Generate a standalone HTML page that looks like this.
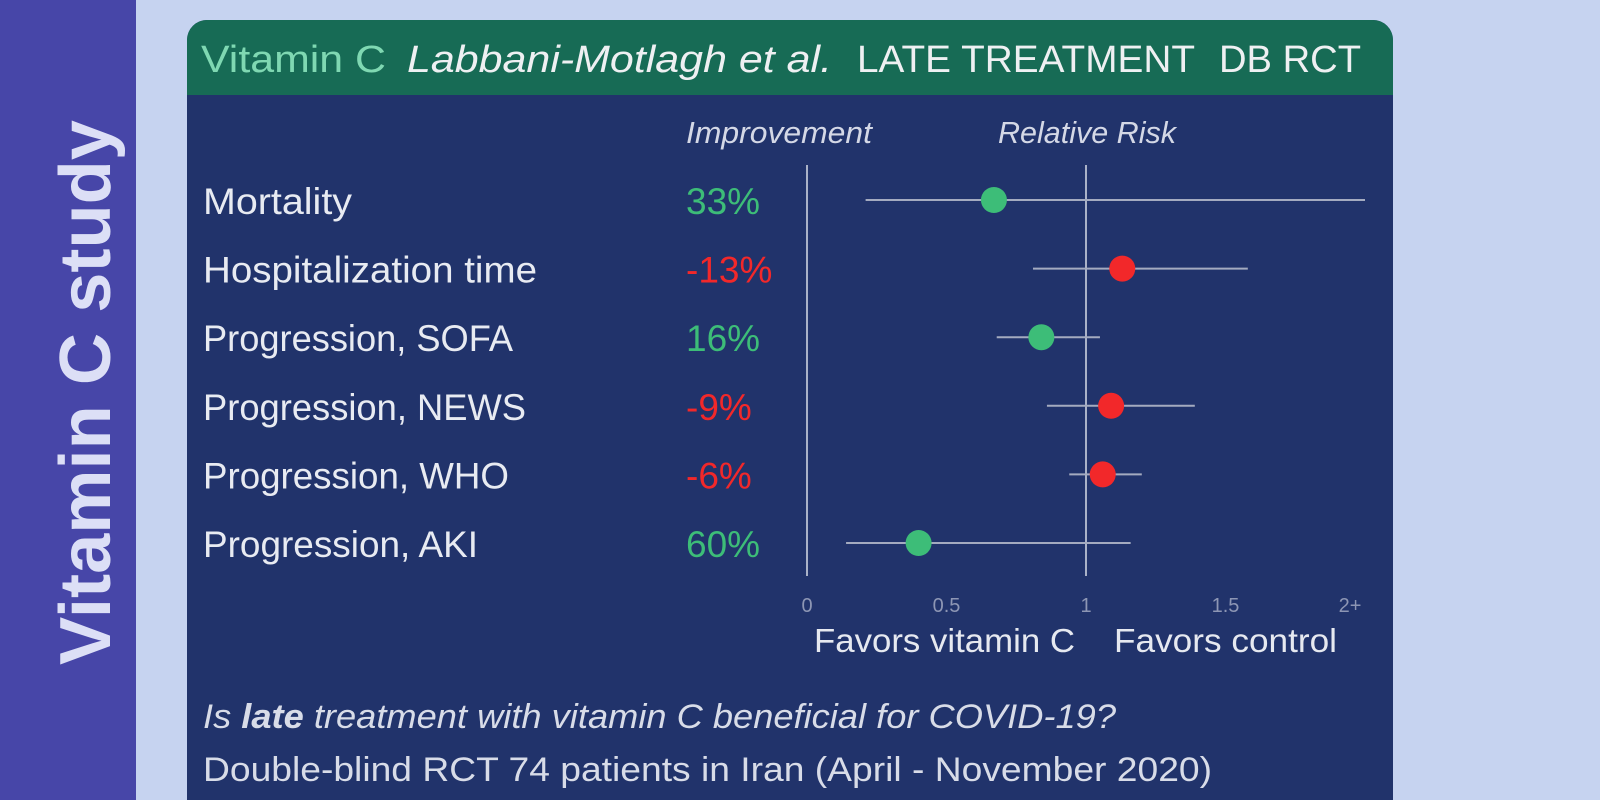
<!DOCTYPE html>
<html><head><meta charset="utf-8"><style>
html,body{margin:0;padding:0;width:1600px;height:800px;overflow:hidden;background:#c6d3f0;}
svg{display:block;font-family:"Liberation Sans Narrow","Liberation Sans",sans-serif;}
</style></head><body>
<svg width="1600" height="800" viewBox="0 0 1600 800">
<rect x="0" y="0" width="1600" height="800" fill="#c6d3f0"/>
<rect x="0" y="0" width="136" height="800" fill="#4746a8"/>
<text transform="translate(110,665) rotate(-90)" textLength="545" lengthAdjust="spacingAndGlyphs" font-size="72" font-weight="bold" fill="#dcdff6" font-family="Liberation Sans, sans-serif">Vitamin C study</text>
<path d="M187,40 a20,20 0 0 1 20,-20 H1373 a20,20 0 0 1 20,20 V800 H187 Z" fill="#21336b"/>
<path d="M187,40 a20,20 0 0 1 20,-20 H1373 a20,20 0 0 1 20,20 V95 H187 Z" fill="#176b55"/>
<text x="201" y="72" font-size="38"><tspan fill="#7fd8b2" textLength="185" lengthAdjust="spacingAndGlyphs">Vitamin C</tspan><tspan x="407" fill="#eef0f2" font-style="italic" textLength="425" lengthAdjust="spacingAndGlyphs">Labbani-Motlagh et al.</tspan><tspan x="857" fill="#eef0f2" textLength="338" lengthAdjust="spacingAndGlyphs">LATE TREATMENT</tspan><tspan x="1219" fill="#eef0f2" textLength="142" lengthAdjust="spacingAndGlyphs">DB RCT</tspan></text>
<text x="686" y="143" font-size="31" font-style="italic" fill="#d4d8e6" textLength="186" lengthAdjust="spacingAndGlyphs">Improvement</text>
<text x="998" y="143" font-size="31" font-style="italic" fill="#d4d8e6" textLength="178" lengthAdjust="spacingAndGlyphs">Relative Risk</text>
<g id="chart"></g>
<text x="814" y="652" font-size="33" fill="#e6e9f0" textLength="261" lengthAdjust="spacingAndGlyphs">Favors vitamin C</text>
<text x="1114" y="652" font-size="33" fill="#e6e9f0" textLength="223" lengthAdjust="spacingAndGlyphs">Favors control</text>
<text x="203" y="728" font-size="34" font-style="italic" fill="#d8dce8" textLength="913" lengthAdjust="spacingAndGlyphs">Is <tspan font-weight="bold">late</tspan> treatment with vitamin C beneficial for COVID-19?</text>
<text x="203" y="781" font-size="34" fill="#d8dce8" textLength="1009" lengthAdjust="spacingAndGlyphs">Double-blind RCT 74 patients in Iran (April - November 2020)</text>
</svg>
<script>
const outcomes=["Mortality","Hospitalization time","Progression, SOFA","Progression, NEWS","Progression, WHO","Progression, AKI"];
const improvements=["33%","-13%","16%","-9%","-6%","60%"];
const rr=[0.67,1.13,0.84,1.09,1.06,0.40];
const ciLow=[0.21,0.81,0.68,0.86,0.94,0.14];
const ciHigh=[2.0,1.58,1.05,1.39,1.20,1.16];
const tickVals=[0,0.5,1,1.5,2];
const tickLabels=["0","0.5","1","1.5","2+"];
const labelW=[149,334,310,323,306,275];
const NS="http://www.w3.org/2000/svg";
const g=document.getElementById('chart');
const xS=v=>807+Math.min(v,2)*279;
const yS=i=>200+i*68.6;
function mk(t,a){const e=document.createElementNS(NS,t);for(const k in a)e.setAttribute(k,a[k]);g.appendChild(e);return e;}
let ax=mk('line',{x1:xS(0),x2:xS(0),y1:165,y2:576,stroke:'#aab2c8','stroke-width':2});


let ref=mk('line',{x1:xS(1),x2:xS(1),y1:165,y2:576,stroke:'#aab2c8','stroke-width':2});


tickVals.forEach((v,i)=>{
 const t=mk('text',{x:xS(v)-(i==4?15:0),y:612,'font-size':20,fill:'#8d96b4','text-anchor':'middle'});
 t.textContent=tickLabels[i];
 
 
});
outcomes.forEach((o,i)=>{
 const y=yS(i);const good=rr[i]<1;const col=good?'#3dbd78':'#f2282a';
 const l=mk('text',{x:203,y:y+14,'font-size':37,fill:'#e8ebf2',textLength:labelW[i],lengthAdjust:'spacingAndGlyphs'});
 l.textContent=o;
 
 
 const p=mk('text',{x:686,y:y+14,'font-size':37,fill:col});
 p.textContent=improvements[i];
 
 
 const c=mk('line',{x1:xS(ciLow[i]),x2:xS(ciHigh[i]),y1:y,y2:y,stroke:'#a4abc0','stroke-width':2});
 
 
 const d=mk('circle',{cx:xS(rr[i]),cy:y,r:13,fill:col});
 
 
});
</script>
</body></html>
